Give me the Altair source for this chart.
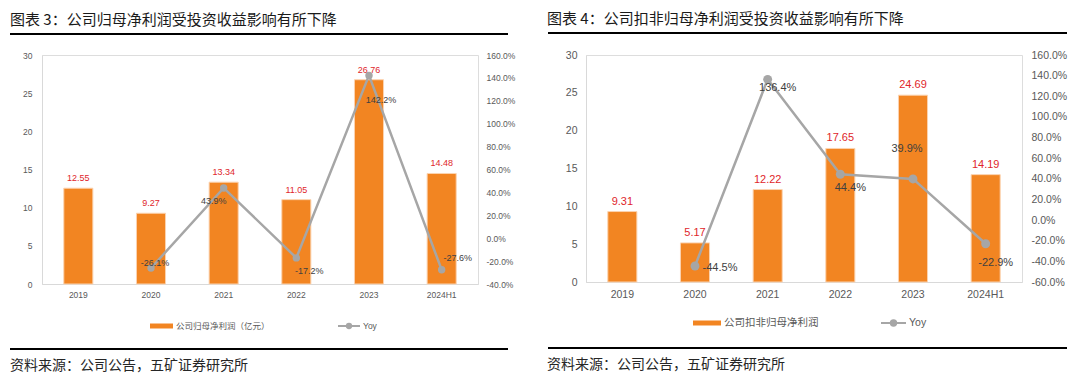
import altair as alt
import pandas as pd

# ---------------- data ----------------
years = ["2019", "2020", "2021", "2022", "2023", "2024H1"]
profit_left = [12.55, 9.27, 13.34, 11.05, 26.76, 14.48]
yoy_left = [None, -26.1, 43.9, -17.2, 142.2, -27.6]
profit_right = [9.31, 5.17, 12.22, 17.65, 24.69, 14.19]
yoy_right = [None, -44.5, 136.4, 44.4, 39.9, -22.9]

title_left = "图表 3：公司归母净利润受投资收益影响有所下降"
title_right = "图表 4：公司扣非归母净利润受投资收益影响有所下降"
legend_bar_left = "公司归母净利润（亿元）"
legend_bar_right = "公司扣非归母净利润"
legend_line = "Yoy"
source_text = "资料来源：公司公告，五矿证券研究所"

bar_ticks = [0, 5, 10, 15, 20, 25, 30]
yoy_ticks_left = [-40, -20, 0, 20, 40, 60, 80, 100, 120, 140, 160]
yoy_ticks_right = [-60, -40, -20, 0, 20, 40, 60, 80, 100, 120, 140, 160]

# ---------------- styles ----------------
ORANGE = "#F28522"
GRAY = "#A6A6A6"
RED = "#E0262B"
DARK = "#404040"
AXIS_TXT = "#595959"
CJK = "Noto Sans CJK SC"
LAT = "Liberation Sans"

PCT = "replace(format({v}, '.1f'), '\u2212', '-') + '%'"

# label offsets (dx, dy) for the Yoy labels, per category
yoy_off_left = {"2020": (4, -5), "2021": (-10, 13), "2022": (13, 13), "2023": (12, 25), "2024H1": (16, -12)}
yoy_off_right = {"2020": (25, 2), "2021": (10, 9), "2022": (10, 14), "2023": (-6, -30), "2024H1": (10, 19)}

one = pd.DataFrame({"a": [0]})


def panel(profit, yoy, yoy_ticks, title, bar_legend, offs, W, H, fs, lay):
    df = pd.DataFrame({"year": years, "profit": profit, "yoy": yoy})
    x = alt.X("year:N", sort=years,
              scale=alt.Scale(paddingInner=0.6, paddingOuter=0.3),
              axis=alt.Axis(title=None, labelAngle=0, ticks=False, domainColor="#D9D9D9",
                            labelFontSize=fs["axis"], labelColor=AXIS_TXT, labelFont=LAT,
                            labelPadding=fs["xpad"]))
    ybar = alt.Y("profit:Q", scale=alt.Scale(domain=[0, 30], nice=False),
                 axis=alt.Axis(title=None, values=bar_ticks, ticks=False, grid=False,
                               domainColor="#D9D9D9", labelFontSize=fs["axis"],
                               labelColor=AXIS_TXT, labelFont=LAT, labelPadding=fs["ypad"]))
    yyoy = alt.Y("yoy:Q", scale=alt.Scale(domain=[yoy_ticks[0], yoy_ticks[-1]], nice=False),
                 axis=alt.Axis(title=None, orient="right", values=yoy_ticks, ticks=False, grid=False,
                               domain=False, labelFontSize=fs["axis"], labelColor=AXIS_TXT,
                               labelFont=LAT, labelPadding=fs["rpad"],
                               labelExpr=PCT.format(v="datum.value")))

    bars = alt.Chart(df).mark_bar(color=ORANGE, stroke="#FBD3B0", strokeWidth=1).encode(x=x, y=ybar)
    bar_lbl = alt.Chart(df).mark_text(dy=-10, color=RED, fontSize=fs["lbl"], font=LAT).encode(
        x=x, y=ybar, text=alt.Text("profit:Q", format=".2f"))
    left_layer = alt.layer(bars, bar_lbl)

    ydf = df.dropna()
    line = alt.Chart(ydf).mark_line(color=GRAY, strokeWidth=2.5).encode(x=x, y=yyoy)
    pts = alt.Chart(ydf).mark_point(filled=True, color=GRAY, size=fs["pt"], opacity=1).encode(x=x, y=yyoy)
    lbls = []
    for yr, (dx, dy) in offs.items():
        lbls.append(alt.Chart(ydf).transform_filter(alt.datum.year == yr).transform_calculate(
            t=PCT.format(v="datum.yoy")).mark_text(
            dx=dx, dy=dy, color=DARK, fontSize=fs["lbl"], font=LAT).encode(
            x=x, y=yyoy, text="t:N"))
    right_layer = alt.layer(line, pts, *lbls)

    deco = []
    deco.append(alt.Chart(one).mark_text(align="left", baseline="middle", fontSize=15, font=CJK,
                                         color="#1A1A1A").encode(
        x=alt.value(lay["tx"]), y=alt.value(lay["ty"]), text=alt.value(title)))
    deco.append(alt.Chart(one).mark_rule(color="#000000", strokeWidth=2).encode(
        x=alt.value(lay["rx1"]), x2=alt.value(lay["rx2"]), y=alt.value(lay["ry1"])))
    deco.append(alt.Chart(one).mark_rule(color="#000000", strokeWidth=2).encode(
        x=alt.value(lay["rx1"]), x2=alt.value(lay["rx2"]), y=alt.value(lay["ry2"])))
    deco.append(alt.Chart(one).mark_text(align="left", baseline="middle", fontSize=14, font=CJK,
                                         color="#262626").encode(
        x=alt.value(lay["tx"]), y=alt.value(lay["sy"]), text=alt.value(source_text)))
    # legend
    ly = lay["ly"]
    deco.append(alt.Chart(one).mark_rect(color=ORANGE).encode(
        x=alt.value(lay["lr1"]), x2=alt.value(lay["lr2"]), y=alt.value(ly - 2.5), y2=alt.value(ly + 2.5)))
    deco.append(alt.Chart(one).mark_text(align="left", baseline="middle", fontSize=fs["leg"], font=CJK,
                                         color=AXIS_TXT).encode(
        x=alt.value(lay["lr2"] + 3), y=alt.value(ly), text=alt.value(bar_legend)))
    deco.append(alt.Chart(one).mark_rule(color=GRAY, strokeWidth=2).encode(
        x=alt.value(lay["ll1"]), x2=alt.value(lay["ll2"]), y=alt.value(ly)))
    deco.append(alt.Chart(one).mark_point(filled=True, color=GRAY, size=fs["lpt"], opacity=1).encode(
        x=alt.value((lay["ll1"] + lay["ll2"]) / 2), y=alt.value(ly)))
    deco.append(alt.Chart(one).mark_text(align="left", baseline="middle", fontSize=fs["leg"], font=LAT,
                                         color=AXIS_TXT).encode(
        x=alt.value(lay["ll2"] + 3), y=alt.value(ly), text=alt.value(legend_line)))

    return alt.layer(left_layer, right_layer, *deco).resolve_scale(y="independent").properties(
        width=W, height=H)


left = panel(profit_left, yoy_left, yoy_ticks_left, title_left, legend_bar_left, yoy_off_left,
             436, 229,
             dict(axis=8.5, lbl=9, leg=8.5, pt=55, lpt=40, xpad=6, ypad=10, rpad=8),
             dict(tx=-32, ty=-35, rx1=-32, rx2=466, ry1=-21, ry2=294, sy=311,
                  ly=271, lr1=108, lr2=131, ll1=296, ll2=318))
right = panel(profit_right, yoy_right, yoy_ticks_right, title_right, legend_bar_right, yoy_off_right,
              436, 227,
              dict(axis=10.5, lbl=11, leg=10.5, pt=80, lpt=55, xpad=7, ypad=9, rpad=9),
              dict(tx=-39, ty=-36, rx1=-38, rx2=481, ry1=-22, ry2=293, sy=310,
                   ly=268, lr1=107, lr2=135, ll1=295, ll2=320))

chart = alt.hconcat(left, right, spacing=30).properties(
    padding={"left": 0, "top": 3, "right": 0, "bottom": 0}
).configure_view(stroke=None).configure(background="#FFFFFF")

chart.save("out.html", embed_options={"renderer": "svg", "actions": False})
